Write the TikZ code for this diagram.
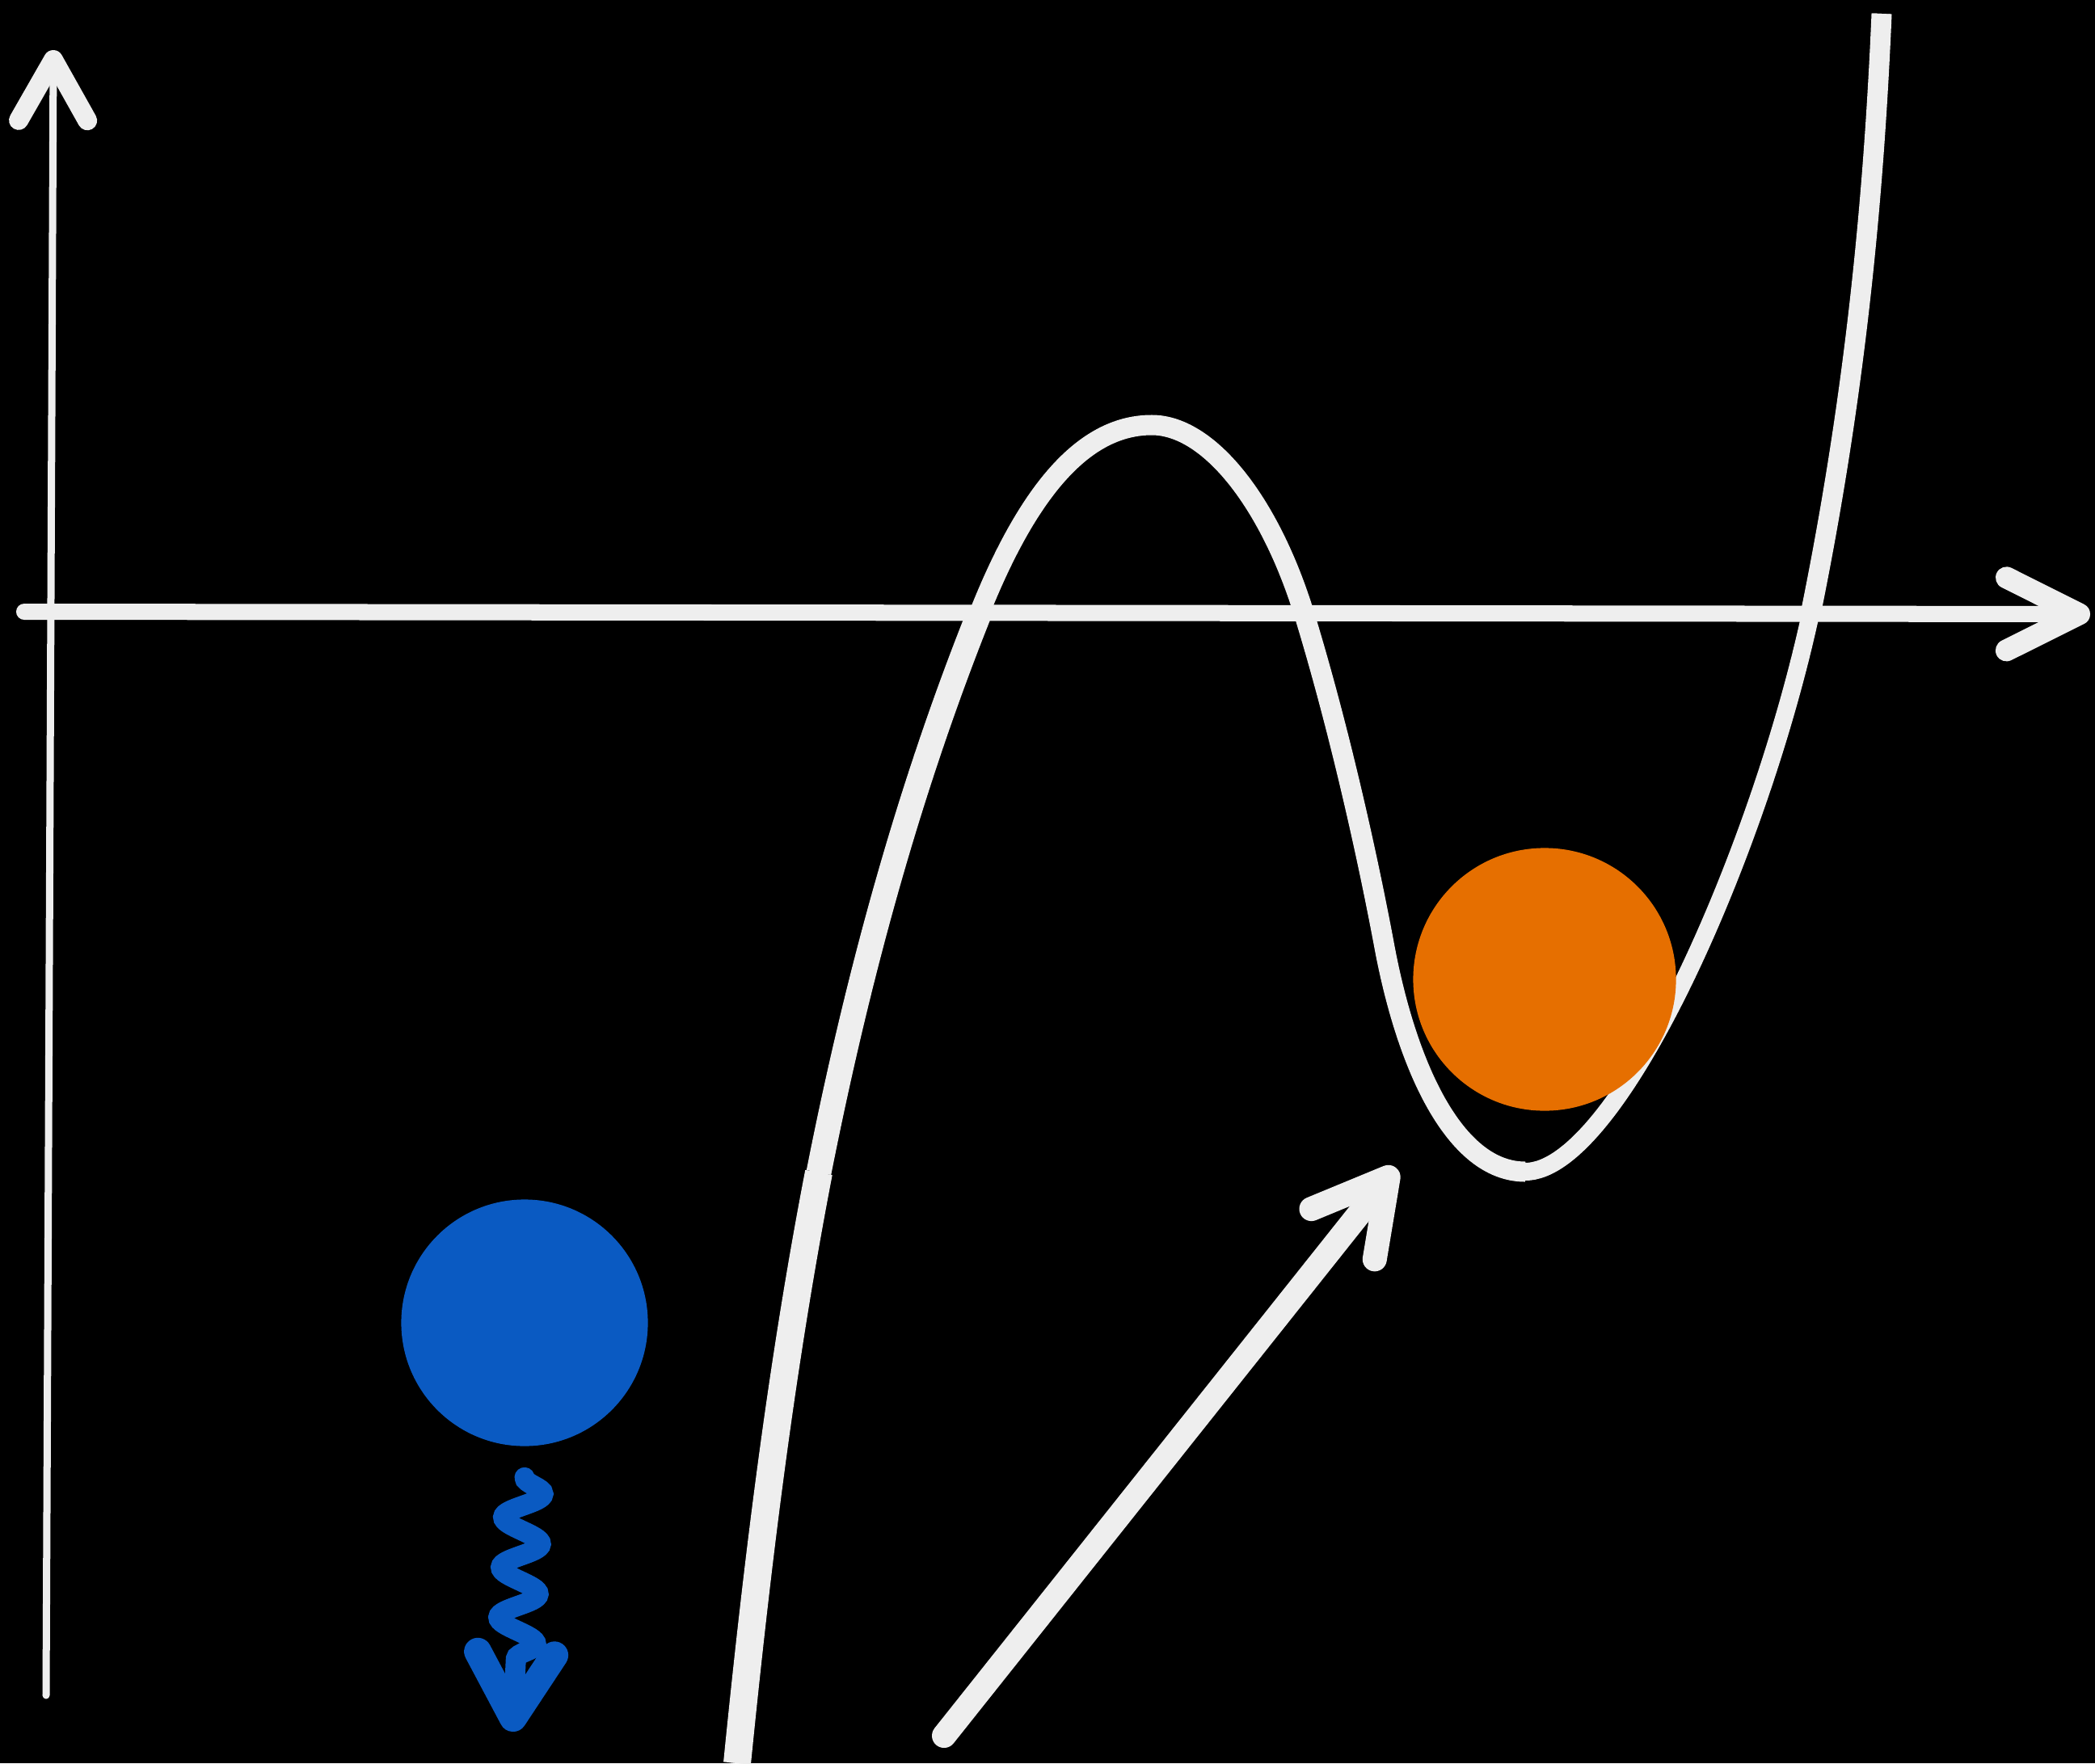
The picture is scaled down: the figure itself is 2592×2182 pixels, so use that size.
\documentclass[tikz,border=0pt]{standalone}
\usepackage{tikz}
\usetikzlibrary{arrows.meta,calc,decorations.pathmorphing}
\definecolor{boardBlack}{HTML}{000000}
\definecolor{chalkWhite}{HTML}{EEEEEE}
\definecolor{ballBlue}{HTML}{0A5AC2}
\definecolor{ballOrange}{HTML}{E66F00}
\tikzset{
  yaxis/.style={-{Straight Barb[round, length=0.75cm, width=0.85cm, line width=0.24cm]}, line width=0.09cm, draw=chalkWhite, line cap=round},
  xaxis/.style={-{Straight Barb[round, length=0.9cm, width=0.9cm, line width=0.27cm]}, line width=0.2cm, draw=chalkWhite, line cap=round},
  potential/.style={draw=chalkWhite, line width=0.22cm, line cap=butt, line join=round},
  pointer/.style={-{Straight Barb[round, length=0.9cm, width=1.0cm, line width=0.3cm]}, line width=0.3cm, draw=chalkWhite, line cap=round},
  wiggle/.style={-{Straight Barb[round, length=0.8cm, width=0.95cm, line width=0.34cm]}, line width=0.25cm, draw=ballBlue, line cap=round,
    decorate, decoration={snake, amplitude=0.24cm, segment length=0.62cm, post length=0.75cm}},
  ball/.style={circle, inner sep=0pt, draw=none}
}
\begin{document}
\begin{tikzpicture}[x=0.01cm,y=-0.01cm]
  \fill[boardBlack] (0,0) rectangle (2592,2182);
  \useasboundingbox (0,0) rectangle (2592,2182);

  % axes
  \coordinate (ybot) at (57,2098);
  \coordinate (ytop) at (66,62);
  \coordinate (xleft) at (30,757);
  \coordinate (xright) at (2586,760);
  \draw[yaxis] (ybot) -- (ytop);
  \draw[xaxis] (xleft) -- (xright);

  % the double well in one stroke, then thicker pen on some parts
  \coordinate (foot) at (912,2182);
  \coordinate (rise) at (1013,1451);
  \coordinate (cross1) at (1212,758);
  \coordinate (hill) at (1425,526);
  \coordinate (cross2) at (1613,758);
  \coordinate (slope) at (1712,1167);
  \coordinate (bottom) at (1887,1450);
  \coordinate (cross3) at (2240,760);
  \coordinate (top) at (2328,17);
  \draw[potential] (foot) .. controls (937,1932) and (967,1689) .. (rise)
    .. controls (1060,1214) and (1122,983) .. (cross1)
    .. controls (1275,600) and (1345,526) .. (hill)
    .. controls (1495,526) and (1570,620) .. (cross2)
    .. controls (1655,895) and (1690,1050) .. (slope)
    .. controls (1740,1320) and (1800,1450) .. (bottom)
    .. controls (2000,1450) and (2175,1060) .. (cross3)
    .. controls (2295,490) and (2318,250) .. (top);
  \draw[potential, line width=0.34cm] (foot) .. controls (937,1932) and (967,1689) .. (rise);
  \draw[potential, line width=0.31cm] (rise) .. controls (1060,1214) and (1122,983) .. (cross1);
  \draw[potential, line width=0.25cm] (cross1) .. controls (1275,600) and (1345,526) .. (hill)
    .. controls (1495,526) and (1570,620) .. (cross2)
    .. controls (1655,895) and (1690,1050) .. (slope)
    .. controls (1740,1320) and (1800,1450) .. (bottom);
  \draw[potential, line width=0.25cm] (cross3) .. controls (2295,490) and (2318,250) .. (top);

  % balls
  \node[ball, fill=ballBlue, minimum size=3.05cm] (blue) at (649,1637) {};
  \node[ball, fill=ballOrange, minimum size=3.25cm] (orange) at (1911,1212) {};

  % falling ball
  \coordinate (fall) at (634,2143);
  \draw[wiggle] ($(blue.south)+(0,38)$) -- (fall);

  % pointer to the well
  \coordinate (tail) at (1168,2148);
  \coordinate (well) at (1727,1445);
  \draw[pointer] (tail) -- (well);
\end{tikzpicture}
\end{document}
